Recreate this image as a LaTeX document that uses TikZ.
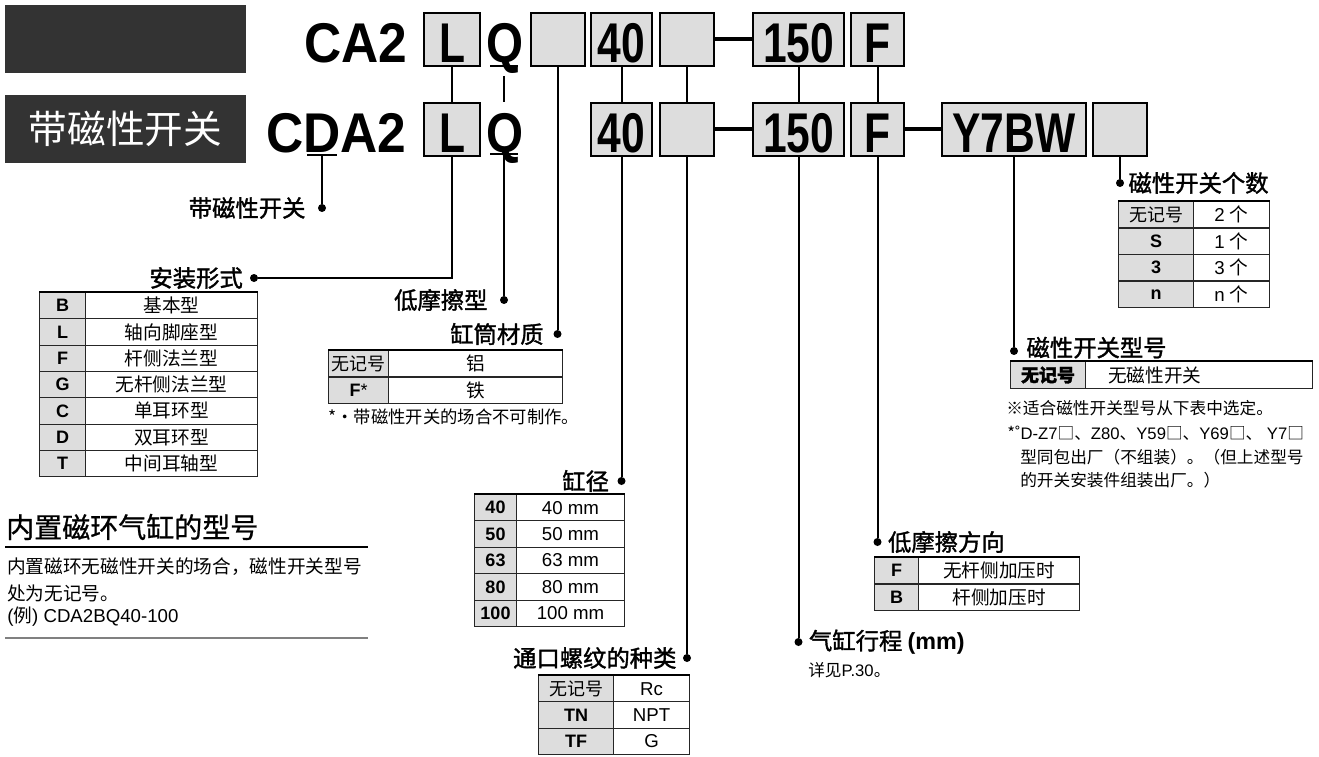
\documentclass[tikz,border=0pt]{standalone}
\usepackage{fontspec}
\setmainfont{Liberation Sans}
\newfontfamily\cjk{Noto Sans CJK SC}
\newfontfamily\cjkbold{Noto Sans CJK SC}[FakeBold=1.5]
\newfontfamily\cjkmid{Noto Sans CJK SC}[FakeBold=0.8]
\newfontfamily\codefont{Liberation Sans}[FakeStretch=0.76]
\newfontfamily\qfont{Liberation Sans}[FakeStretch=0.85]
\newfontfamily\modelfont{Liberation Sans}[FakeStretch=0.92]
\usetikzlibrary{positioning}
\definecolor{barcol}{HTML}{333333}
\definecolor{cellgray}{HTML}{DDDDDD}
\definecolor{rulegray}{HTML}{808080}

\begin{document}
\begin{tikzpicture}[x=0.75pt, y=-0.75pt,
    darkbar/.style={fill=barcol, minimum width=180.75pt, minimum height=51pt, inner sep=0pt,
                    text=white, font=\cjk\fontsize{29}{29}\selectfont},
    codebox/.style={draw, line width=1.5pt, fill=cellgray, minimum height=39.75pt, inner sep=0pt,
                    text height=34.5pt, text depth=0pt, font=\codefont\bfseries\fontsize{42}{42}\selectfont},
    model/.style={inner sep=0pt, anchor=base west, font=\modelfont\bfseries\fontsize{42}{42}\selectfont},
    qcode/.style={inner sep=0pt, anchor=base, font=\qfont\bfseries\fontsize{42}{42}\selectfont},
    wire/.style={line width=1.5pt},
    link/.style={line width=3pt},
    dot/.style={circle, fill, inner sep=0pt, minimum size=6pt},
    lbl/.style={inner sep=0pt, font=\cjkbold\fontsize{17.5}{18}\selectfont},
    keycell/.style={draw=black!85, line width=0.75pt, fill=cellgray, anchor=north west, inner sep=0pt,
                    minimum height=19.8pt, font=\bfseries\fontsize{13.5}{14}\selectfont},
    valcell/.style={draw=black!85, line width=0.75pt, fill=white, anchor=north west, inner sep=0pt,
                    minimum height=19.8pt, font=\fontsize{14}{15}\selectfont},
    tabtop/.style={line width=1.6pt},
    note/.style={inner sep=0pt, anchor=west, font=\cjk\fontsize{12.5}{13}\selectfont}]
  \path[use as bounding box, fill=white] (0,0) rectangle (1319,756);

  % header bars and model codes
  \node[darkbar] (tagA) at (125.5,39) {};
  \node[darkbar] (tagB) at (125.5,129) {带磁性开关};
  \node[model] (mA) at (304,62.5) {CA2};
  \node[model] (mB) at (266,152) {CDA2};
  \node[qcode] (qA) at (505,62.5) {Q};
  \node[qcode] (qB) at (505,152) {Q};
  \draw[wire] (307,155) -- (337,155);
  \draw[wire] (490,66) -- (518,66);
  \draw[wire] (490,154.5) -- (518,154.5);
  \coordinate (uD) at (322,155);
  \coordinate (uQa) at (504,76);
  \coordinate (tQb) at (504,102);
  \coordinate (uQb) at (504,155);

  \node[codebox, minimum width=42pt]    (La) at (452,39.5)   {L};
  \node[codebox, minimum width=40.5pt]  (Ea) at (557.5,39.5) {};
  \node[codebox, minimum width=45.75pt] (Ba) at (621.5,39.5) {40};
  \node[codebox, minimum width=40.5pt]  (Pa) at (687,39.5)   {};
  \node[codebox, minimum width=68.25pt] (Sa) at (798.5,39.5) {150};
  \node[codebox, minimum width=39.75pt] (Fa) at (877.5,39.5) {F};

  \node[codebox, minimum width=42pt]    (Lb) at (452,129.5)   {L};
  \node[codebox, minimum width=45.75pt] (Bb) at (621.5,129.5) {40};
  \node[codebox, minimum width=40.5pt]  (Pb) at (687,129.5)   {};
  \node[codebox, minimum width=68.25pt] (Sb) at (798.5,129.5) {150};
  \node[codebox, minimum width=39.75pt] (Fb) at (877.5,129.5) {F};
  \node[codebox, minimum width=108pt]   (Yb) at (1014,129.5)  {Y7BW};
  \node[codebox, minimum width=40.5pt]  (Nb) at (1120,129.5)  {};

  \draw[link] (Pa) -- (Sa);
  \draw[link] (Pb) -- (Sb);
  \draw[link] (Fb) -- (Yb);
  \draw[wire] (La) -- (Lb);
  \draw[wire] (uQa) -- (tQb);
  \draw[wire] (Ba) -- (Bb);
  \draw[wire] (Pa) -- (Pb);
  \draw[wire] (Sa) -- (Sb);
  \draw[wire] (Fa) -- (Fb);

  % bullets and option labels
  \node[dot] (dD)      at (322,208)   {};
  \node[dot] (dMount)  at (254,278)   {};
  \node[dot] (dLow)    at (504,300)   {};
  \node[dot] (dMat)    at (557.5,334) {};
  \node[dot] (d40)     at (621.5,481) {};
  \node[dot] (dPort)   at (687,658)   {};
  \node[dot] (dStroke) at (798.5,642) {};
  \node[dot] (dDir)    at (877.5,542) {};
  \node[dot] (dSw)     at (1014,351)  {};
  \node[dot] (dNum)    at (1120,183)  {};

  \node[lbl, left=9pt of dD]       (lD)      {带磁性开关};
  \node[lbl, left=5pt of dMount]   (lMount)  {安装形式};
  \node[lbl, left=9pt of dLow]     (lLow)    {低摩擦型};
  \node[lbl, left=7pt of dMat]     (lMat)    {缸筒材质};
  \node[lbl, left=6pt of d40]      (l40)     {缸径};
  \node[lbl, left=4.5pt of dPort]  (lPort)   {通口螺纹的种类};
  \node[lbl, right=4.5pt of dStroke] (lStroke) {气缸行程\ {\rmfamily\bfseries (mm)}};
  \node[lbl, right=4.5pt of dDir]  (lDir)    {低摩擦方向};
  \node[lbl, right=6pt of dSw, yshift=2.5pt] (lSw) {磁性开关型号};
  \node[lbl, right=3pt of dNum]    (lNum)    {磁性开关个数};

  \draw[wire] (uD) -- (dD);
  \draw[wire] (Lb) |- (dMount);
  \draw[wire] (uQb) -- (dLow);
  \draw[wire] (Ea) -- (dMat);
  \draw[wire] (Bb) -- (d40);
  \draw[wire] (Pb) -- (dPort);
  \draw[wire] (Sb) -- (dStroke);
  \draw[wire] (Fb) -- (dDir);
  \draw[wire] (Yb) -- (dSw);
  \draw[wire] (Nb) -- (dNum);

  % option tables
  \foreach \k/\v [count=\i from 0] in {B/基本型, L/轴向脚座型, F/杆侧法兰型, G/无杆侧法兰型,
      C/单耳环型, D/双耳环型, T/中间耳轴型}{
    \node[keycell, minimum width=34.5pt] (mk\i) at (39,{292+26.3*\i}) {\k};
    \node[valcell, minimum width=129pt]  (mv\i) at (85,{292+26.3*\i}) {\cjk\v};
  }
  \draw[tabtop] (mk0.north west) -- (mv0.north east);

  \foreach \k/\v [count=\i from 0] in {{\cjk\mdseries 无记号}/铝, {F\textmd{*}}/铁}{
    \node[keycell, minimum width=45pt]    (tk\i) at (328,{350+26.5*\i}) {\k};
    \node[valcell, minimum width=130.5pt] (tv\i) at (388,{350+26.5*\i}) {\cjk\v};
  }
  \draw[tabtop] (tk0.north west) -- (tv0.north east);
  \node[note, font=\cjk\fontsize{13}{13}\selectfont] (fnMat) at (328,417) {*·带磁性开关的场合不可制作。};

  \foreach \k/\v [count=\i from 0] in {40/40 mm, 50/50 mm, 63/63 mm, 80/80 mm, 100/100 mm}{
    \node[keycell, minimum width=31.5pt] (bk\i) at (474,{494+26.4*\i}) {\k};
    \node[valcell, minimum width=81pt]   (bv\i) at (516,{494+26.4*\i}) {\v};
  }
  \draw[tabtop] (bk0.north west) -- (bv0.north east);

  \foreach \k/\v [count=\i from 0] in {{\cjk\mdseries 无记号}/Rc, TN/NPT, TF/G}{
    \node[keycell, minimum width=56.25pt] (pk\i) at (538,{675+26.3*\i}) {\k};
    \node[valcell, minimum width=57pt]    (pv\i) at (613,{675+26.3*\i}) {\v};
  }
  \draw[tabtop] (pk0.north west) -- (pv0.north east);

  \foreach \k/\v [count=\i from 0] in {F/无杆侧加压时, B/杆侧加压时}{
    \node[keycell, minimum width=33pt]     (ok\i) at (874,{557+26.5*\i}) {\k};
    \node[valcell, minimum width=120.75pt] (ov\i) at (918,{557+26.5*\i}) {\cjk\v};
  }
  \draw[tabtop] (ok0.north west) -- (ov0.north east);

  \foreach \k/\v [count=\i from 0] in {{\cjk\mdseries 无记号}/2 {\cjk 个}, S/1 {\cjk 个}, 3/3 {\cjk 个}, n/n {\cjk 个}}{
    \node[keycell, minimum width=56.25pt] (nk\i) at (1118,{201+26.5*\i}) {\k};
    \node[valcell, minimum width=57pt]    (nv\i) at (1193,{201+26.5*\i}) {\v};
  }
  \draw[tabtop] (nk0.north west) -- (nv0.north east);

  \node[keycell, minimum width=56.25pt, minimum height=20.25pt] (sk0) at (1010,361) {\cjkbold 无记号};
  \node[valcell, minimum width=170.25pt, minimum height=20.25pt, text width=170.25pt, align=left]
    (sv0) at (1085,361) {\hspace*{17pt}\cjk 无磁性开关};
  \draw[tabtop] (sk0.north west) -- (sv0.north east);

  \node[note] (n1) at (1006,408) {※适合磁性开关型号从下表中选定。};
  \node[note, font=\fontsize{12.5}{13}\selectfont] (n2) at (1007,433)
    {{\cjk *}˚D-Z7{\cjk □、}Z80{\cjk 、}Y59{\cjk □、}Y69{\cjk □、} Y7{\cjk □}};
  \node[note] (n3) at (1020,457) {型同包出厂（不组装）。（但上述型号};
  \node[note] (n4) at (1020,480) {的开关安装件组装出厂。）};
  \node[note, font=\fontsize{12.5}{13}\selectfont] (nStroke) at (808,670) {{\cjk 详见}P.30{\cjk 。}};

  % built-in magnet note
  \node[anchor=west, inner sep=0pt, font=\cjkmid\fontsize{21}{21}\selectfont] (hMag) at (6,527) {内置磁环气缸的型号};
  \draw[line width=1.5pt] (5,547) -- (368,547);
  \node[note, font=\cjk\fontsize{14}{14}\selectfont] (p1) at (7,567) {内置磁环无磁性开关的场合，磁性开关型号};
  \node[note, font=\cjk\fontsize{14}{14}\selectfont] (p2) at (7,593) {处为无记号。};
  \node[note, font=\fontsize{14}{14}\selectfont] (p3) at (7,617) {({\cjk 例}) CDA2BQ40-100};
  \draw[rulegray, line width=1.2pt] (5,638) -- (368,638);
\end{tikzpicture}
\end{document}
